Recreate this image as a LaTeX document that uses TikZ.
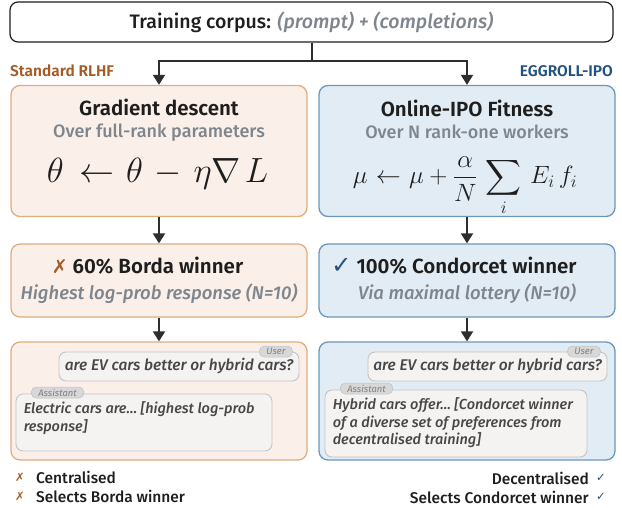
\documentclass[tikz,border=0pt]{standalone}
\usepackage{fix-cm}
\usepackage{amsmath}
\usepackage{fontspec}
\setmainfont{Fira Sans}[BoldFont={Fira Sans SemiBold}, BoldItalicFont={Fira Sans SemiBold Italic}]
\newfontfamily\medfont{Fira Sans Medium}[ItalicFont={Fira Sans Medium Italic}]
\newfontfamily\symfont{DejaVu Sans}
\usepackage{xcolor}
\usepackage{tikz}
\usetikzlibrary{arrows.meta}

\definecolor{rlhfedge}{HTML}{DDAE7E}
\definecolor{rlhffill}{HTML}{FBEFE9}
\definecolor{rlhftext}{HTML}{A55B25}
\definecolor{ipoedge}{HTML}{6C96BD}
\definecolor{ipofill}{HTML}{E2ECF4}
\definecolor{ipotext}{HTML}{24527F}
\definecolor{subgray}{HTML}{7F858C}
\definecolor{inkdark}{HTML}{1E1E1E}
\definecolor{bubblefill}{HTML}{F4F3F2}
\definecolor{bubbleedge}{HTML}{C4C4C4}
\definecolor{tagfill}{HTML}{D8D8D8}

\begin{document}
\begin{tikzpicture}[
    x=1pt, y=-1pt,
    every node/.style={inner sep=0pt, text=inkdark},
    panel/.style={draw, line width=1.3pt, rounded corners=9pt, minimum width=296pt},
    rlhf/.style={panel, fill=rlhffill, draw=rlhfedge},
    ipo/.style={panel, fill=ipofill, draw=ipoedge},
    arrow/.style={-{Triangle[width=12pt,length=10pt]}, line width=2pt, draw=black!82},
    % panel headings and grey sub lines
    head/.style={font=\bfseries\fontsize{20.5}{24}\selectfont},
    sub/.style={font=\medfont\fontsize{18}{21}\selectfont, text=subgray},
    subit/.style={font=\medfont\itshape\fontsize{18.5}{21}\selectfont, text=subgray},
    % chat bubbles with small role tags
    bubble/.style={draw=bubbleedge, fill=bubblefill, line width=0.9pt, rounded corners=7pt},
    tag/.style={draw=bubbleedge, fill=tagfill, line width=0.6pt, rounded corners=5pt,
                minimum height=11pt, inner xsep=7pt,
                font=\itshape\fontsize{9.5}{10}\selectfont, text=black!50},
    chat/.style={font=\medfont\itshape\fontsize{14.5}{17.5}\selectfont, text=black!72, align=left},
    ask/.style={font=\medfont\itshape\fontsize{15.5}{18}\selectfont, text=black!72},
    side/.style={font=\bfseries\fontsize{15.5}{18}\selectfont},
    note/.style={font=\medfont\fontsize{15.5}{18}\selectfont},
]
    \useasboundingbox (0,0) rectangle (622,507);

    % shared input
    \node[draw=inkdark, line width=1.2pt, rounded corners=8pt, fill=white,
          minimum width=603pt, minimum height=40pt] (corpus) at (311.5,22)
        {\medfont\fontsize{19.5}{22}\selectfont Training corpus: {\itshape\color{subgray}(prompt) + (completions)}};

    \node[side, text=rlhftext, anchor=west] (rlhflbl) at (10,71) {Standard RLHF};
    \node[side, text=ipotext, anchor=east] (ipolbl) at (613,71) {EGGROLL-IPO};

    % update rules
    \node[rlhf, minimum height=131pt] (grad) at (159,151) {};
    \node[ipo, minimum height=131pt] (fit) at (467,151) {};
    \node[head] (gradhead) at (159,107) {Gradient descent};
    \node[sub] (gradsub) at (159,133) {Over full-rank parameters};
    \node[font=\fontsize{35}{40}\selectfont] (gradeq) at (157.5,174)
        {$\theta \mathrel{\mskip3mu\leftarrow\mskip1mu} \theta \mathbin{\mskip2mu-\mskip2mu} \eta\nabla\mskip2mu L$};
    \node[head] (fithead) at (467,108) {Online-IPO Fitness};
    \node[sub] (fitsub) at (467,132) {Over N rank-one workers};
    \node[font=\fontsize{25}{30}\selectfont] (fiteq) at (465,186)
        {$\displaystyle \mu \mathrel{\mskip1mu\leftarrow\mskip1mu} \mu + \frac{\alpha}{N}\,\sum_i\, E_i\, f_i$};

    % selected winner
    \node[rlhf, minimum height=73pt] (borda) at (159,280.5) {};
    \node[ipo, minimum height=73pt] (condorcet) at (467,280.5) {};
    \node[head] (bordahead) at (147.5,266)
        {{\symfont\fontsize{19}{20}\selectfont\color{rlhftext}✗}\ 60\% Borda winner};
    \node[subit] (bordasub) at (159,294) {Highest log-prob response (N=10)};
    \node[head] (condhead) at (454,266)
        {{\symfont\fontsize{24}{24}\selectfont\color{ipotext}✓}\ 100\% Condorcet winner};
    \node[subit] (condsub) at (467,294) {Via maximal lottery (N=10)};

    % example chats
    \node[rlhf, minimum height=118pt] (chatL) at (159,401) {};
    \node[ipo, minimum height=118pt] (chatR) at (467,401) {};

    \node[bubble, ask, minimum width=240pt, minimum height=29pt]
        (userL) at (179,366.5) {are EV cars better or hybrid cars?};
    \node[bubble, ask, minimum width=239pt, minimum height=29pt]
        (userR) at (487.5,366.5) {are EV cars better or hybrid cars?};
    \node[bubble, minimum width=256pt, minimum height=57pt] (asstL) at (144,422.5) {};
    \node[bubble, minimum width=262pt, minimum height=67pt] (asstR) at (456,423.5) {};
    \node[chat, anchor=north west] (replyL) at ([shift={(8pt,-8pt)}]asstL.north west)
        {Electric cars are… [highest log-prob\\response]};
    \node[chat, anchor=north west] (replyR) at ([shift={(8pt,-8pt)}]asstR.north west)
        {Hybrid cars offer… [Condorcet winner\\of a diverse set of preferences from\\decentralised training]};

    \foreach \b in {userL, userR}
      \node[tag] (\b tag) at ([xshift=-23.5pt]\b.north east) {User};
    \foreach \b in {asstL, asstR}
      \node[tag] (\b tag) at ([xshift=42pt, yshift=1pt]\b.north west) {Assistant};

    % flow
    \draw[arrow] (corpus.south) -- ++(0,18) -| (grad.north);
    \draw[arrow] (corpus.south) -- ++(0,18) -| (fit.north);
    \draw[arrow] (grad) -- (borda);
    \draw[arrow] (fit) -- (condorcet);
    \draw[arrow] (borda) -- (chatL);
    \draw[arrow] (condorcet) -- (chatR);

    % summary ticks under each column
    \node[note, anchor=west] (centr) at (36,477) {Centralised};
    \node[note, anchor=west] (bordapick) at (36,496) {Selects Borda winner};
    \node[note, anchor=east] (decentr) at (589,478) {Decentralised};
    \node[note, anchor=east] (condpick) at (589,497) {Selects Condorcet winner};
    \foreach \n in {centr, bordapick}
      \node[anchor=east, text=rlhftext, font=\symfont\fontsize{11.5}{12}\selectfont] (\n mark)
        at ([xshift=-11pt]\n.west) {✗};
    \foreach \n in {decentr, condpick}
      \node[anchor=west, text=ipotext, font=\symfont\fontsize{11.5}{12}\selectfont] (\n mark)
        at ([xshift=7pt]\n.east) {✓};
\end{tikzpicture}
\end{document}
